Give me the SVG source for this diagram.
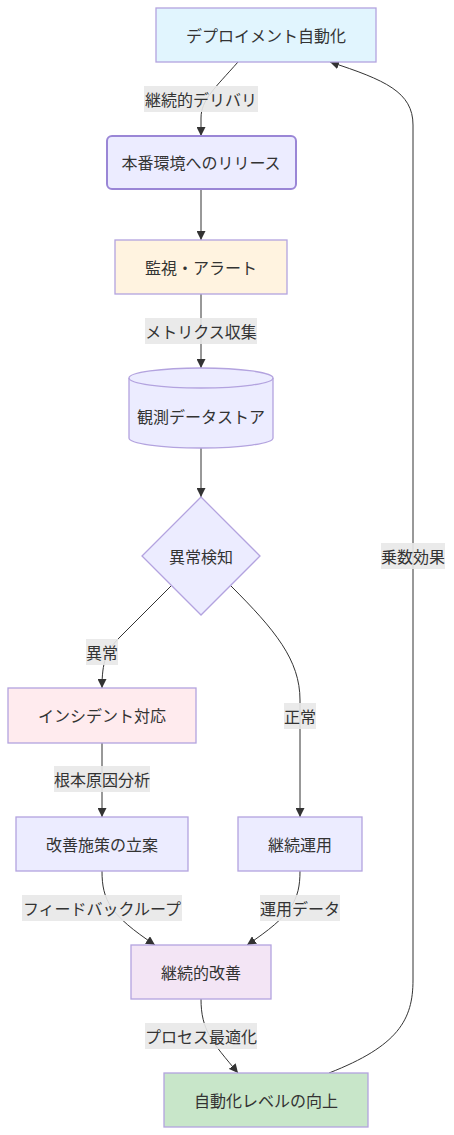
<svg xmlns="http://www.w3.org/2000/svg" width="454" height="1135" viewBox="0 0 454 1135">
<style>
text{font-family:"Noto Sans CJK JP","Liberation Sans",sans-serif;font-size:16px;fill:#333;text-anchor:middle;dominant-baseline:central}
.n{stroke:#b3a3df;stroke-width:1.3}
.e{fill:none;stroke:#333;stroke-width:1}
.lb{fill:#e8e8e8;opacity:0.9}
</style>
<defs>
<marker id="ah" viewBox="0 0 10 10" refX="10" refY="5" markerWidth="9" markerHeight="9" markerUnits="userSpaceOnUse" orient="auto">
<path d="M0,0 L10,5 L0,10 z" fill="#333"/>
</marker>
</defs>
<rect width="454" height="1135" fill="#fff"/>
<g id="connectors">
<path class="e" d="M238,62 C215,88 201,100 201,118 L201,136" marker-end="url(#ah)"/>
<path class="e" d="M201,189 L201,240" marker-end="url(#ah)"/>
<path class="e" d="M201,294 L201,368" marker-end="url(#ah)"/>
<path class="e" d="M201,448 L201,497" marker-end="url(#ah)"/>
<path class="e" d="M171,586 L120,637 C106,651 102,662 102,688" marker-end="url(#ah)"/>
<path class="e" d="M231,586 C275,630 300,660 300,700 L300,817" marker-end="url(#ah)"/>
<path class="e" d="M102,743 L102,817" marker-end="url(#ah)"/>
<path class="e" d="M102,871 C102,900 110,915 155,945" marker-end="url(#ah)"/>
<path class="e" d="M300,871 C300,900 292,915 247,945" marker-end="url(#ah)"/>
<path class="e" d="M201,999 C201,1030 212,1042 238,1073" marker-end="url(#ah)"/>
<path class="e" d="M329,1073 C398,1046 413,1020 413,980 L413,125 C413,92 385,80 330,62" marker-end="url(#ah)"/>
<g id="edge-labels">
<rect class="lb" x="144" y="86" width="114" height="26"/><text x="201" y="99">継続的デリバリ</text>
<rect class="lb" x="145" y="318" width="112" height="26"/><text x="201" y="331">メトリクス収集</text>
<rect class="lb" x="86" y="639" width="32" height="26"/><text x="102" y="652">異常</text>
<rect class="lb" x="284" y="703" width="32" height="26"/><text x="300" y="716">正常</text>
<rect class="lb" x="54" y="766" width="96" height="26"/><text x="102" y="779">根本原因分析</text>
<rect class="lb" x="22" y="895" width="160" height="26"/><text x="102" y="908">フィードバックループ</text>
<rect class="lb" x="260" y="895" width="80" height="26"/><text x="300" y="908">運用データ</text>
<rect class="lb" x="145" y="1023" width="112" height="26"/><text x="201" y="1036">プロセス最適化</text>
<rect class="lb" x="381" y="543" width="64" height="26"/><text x="413" y="556">乗数効果</text>
</g>
</g>
<g id="n1"><rect class="n" x="156" y="8" width="220" height="54" fill="#e1f5fe"/><text x="266" y="35">デプロイメント自動化</text></g>
<g id="n2"><rect class="n" x="107" y="136" width="189" height="53" rx="5" fill="#ececff" style="stroke:#9a86d6;stroke-width:2"/><text x="201" y="162">本番環境へのリリース</text></g>
<g id="n3"><rect class="n" x="115" y="240" width="172" height="54" fill="#fff3e0"/><text x="201" y="267">監視・アラート</text></g>
<g id="n4"><path class="n" d="M129,378 A72,10 0 0 1 273,378 L273,438 A72,10 0 0 1 129,438 Z" fill="#ececff"/><path class="n" d="M129,378 A72,10 0 0 0 273,378" fill="none"/><text x="201" y="416">観測データストア</text></g>
<g id="n5"><polygon class="n" points="201,497 260,556 201,615 142,556" fill="#ececff"/><text x="201" y="556">異常検知</text></g>
<g id="n6"><rect class="n" x="8" y="688" width="188" height="55" fill="#ffebee"/><text x="102" y="715">インシデント対応</text></g>
<g id="n7"><rect class="n" x="16" y="817" width="172" height="54" fill="#ececff"/><text x="102" y="844">改善施策の立案</text></g>
<g id="n8"><rect class="n" x="238" y="817" width="124" height="54" fill="#ececff"/><text x="300" y="844">継続運用</text></g>
<g id="n9"><rect class="n" x="131" y="945" width="140" height="54" fill="#f3e5f5"/><text x="201" y="972">継続的改善</text></g>
<g id="n10"><rect class="n" x="164" y="1073" width="204" height="54" fill="#c8e6c9"/><text x="266" y="1100">自動化レベルの向上</text></g>
</svg>
